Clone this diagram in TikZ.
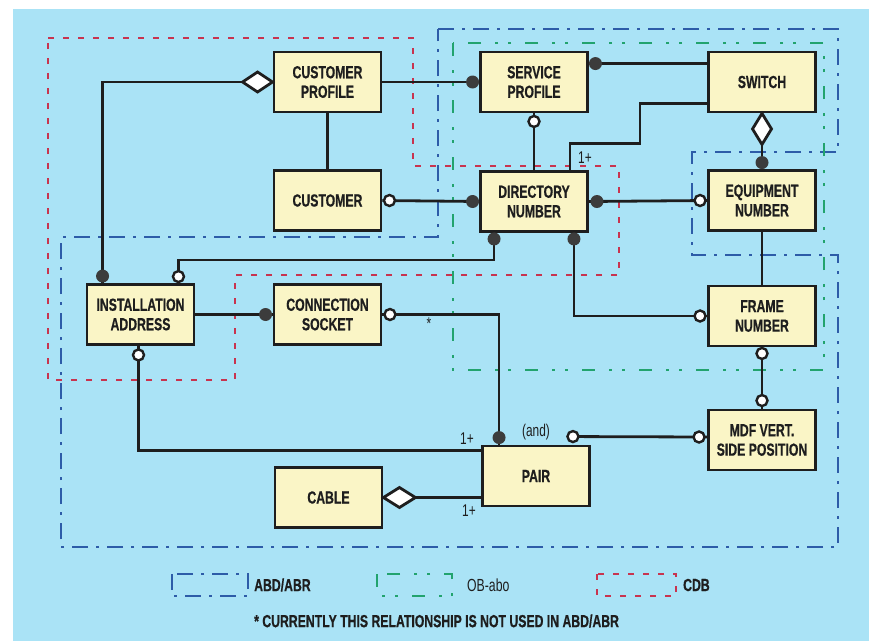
\documentclass[tikz,border=0pt]{standalone}
\usepackage{fontspec}
\setmainfont{Liberation Sans}[FakeStretch=0.70]
\newfontfamily\heavyfont{Liberation Sans}[FakeStretch=0.70, FakeBold=0.6]
\usetikzlibrary{calc}

\definecolor{bgblue}{HTML}{AAE3F6}
\definecolor{boxfill}{HTML}{FAF5C6}
\definecolor{ink}{HTML}{1E1E1E}
\definecolor{dotc}{HTML}{3C3C3C}
\definecolor{cdbred}{HTML}{C8344F}
\definecolor{abdblue}{HTML}{2D5CA8}
\definecolor{obgreen}{HTML}{22A36E}

\tikzset{
  box/.style={draw=ink, line width=2.9pt, fill=boxfill, minimum width=107pt,
    minimum height=60pt, inner sep=0pt, align=center, text=ink,
    font=\heavyfont\fontsize{17.5}{19.5}\selectfont\bfseries},
  conn/.style={draw=ink, line width=2.8pt},
  diam/.style={draw=ink, line width=2.8pt, fill=white, line join=miter},
  fdot/.style={fill=dotc},
  odot/.style={fill=white, draw=ink, line width=2.4pt},
  lbl/.style={text=ink, inner sep=0pt, font=\fontsize{17}{19}\selectfont},
  leg/.style={text=ink, inner sep=0pt, anchor=west, font=\heavyfont\fontsize{17.5}{19.5}\selectfont\bfseries},
  cdb/.style={draw=cdbred, line width=2.8pt, dash pattern=on 6pt off 9pt},
  abd/.style={draw=abdblue, line width=2.8pt, dash pattern=on 16pt off 8pt on 3pt off 8pt},
  ob/.style={draw=obgreen, line width=2.8pt, dash pattern=on 13pt off 14pt on 3pt off 10pt on 3pt off 14pt},
}

\begin{document}
\begin{tikzpicture}[x=1pt,y=-1pt]
\useasboundingbox (0,0) rectangle (869,641);
\fill[white] (0,0) rectangle (869,641);
\fill[bgblue] (13,9) rectangle (869,641);

% database regions
\draw[cdb] (48,38) -- (413,38) -- (413,166) -- (619,166) -- (619,275) -- (235,275) -- (235,380) -- (48,380) -- cycle;
\draw[abd] (438,29) -- (838,29) -- (838,152) -- (692,152) -- (692,255) -- (838,255) -- (838,547) -- (61,547) -- (61,237) -- (438,237) -- cycle;
\draw[ob] (453,43) rectangle (824,370);

% entities
\node[box] (CP)  at (327.5,82)  {CUSTOMER\\PROFILE};
\node[box] (CU)  at (327.5,200.5) {CUSTOMER};
\node[box] (SP)  at (534,82)    {SERVICE\\PROFILE};
\node[box] (SW)  at (762,82)    {SWITCH};
\node[box] (DN)  at (534,201.5) {DIRECTORY\\NUMBER};
\node[box] (EN)  at (762,200.5) {EQUIPMENT\\NUMBER};
\node[box] (FN)  at (762,316)   {FRAME\\NUMBER};
\node[box] (IA)  at (140.5,314.5) {INSTALLATION\\ADDRESS};
\node[box] (CS)  at (327.5,314.5) {CONNECTION\\SOCKET};
\node[box] (CA)  at (328.5,497.5) {CABLE};
\node[box] (PA)  at (536,476)   {PAIR};
\node[box] (MDF) at (762,440)   {MDF VERT.\\SIDE POSITION};

% customer profile -- installation address (aggregation)
\draw[conn] (CP.west) -- ++(-30,0) -| ([xshift=17pt]IA.north west);
\draw[diam] (CP.west) -- ++(-15,-10) -- ++(-15,10) -- ++(15,10) -- cycle;
\fill[fdot] ([xshift=17pt,yshift=7pt]IA.north west) circle[radius=6.5pt];

% customer profile -- customer
\draw[conn] (CP.south) -- (CU.north);

% customer profile -- service profile
\draw[conn] (CP.east) -- (SP.west);
\fill[fdot] ([xshift=-6.5pt]SP.west) circle[radius=6.5pt];

% customer -- directory number
\draw[conn] (CU.east) -- (DN.west);
\draw[odot] ([xshift=7pt]CU.east) circle[radius=5.5pt];
\fill[fdot] ([xshift=-6.5pt]DN.west) circle[radius=6.5pt];

% service profile -- switch
\draw[conn] ([yshift=-13pt]SP.north east) -- ([yshift=-13pt]SW.north west);
\fill[fdot] ([xshift=6.5pt,yshift=-13pt]SP.north east) circle[radius=6.5pt];

% switch -- directory number
\draw[conn] ([yshift=10pt]SW.south west) -- ++(-67,0) -- ++(0,40) -| ([xshift=-19pt]DN.north east);
\node[lbl] (one1) at (585,158) {1+};

% service profile -- directory number
\draw[conn] (SP.south) -- (DN.north);
\draw[odot] ([yshift=-8pt]SP.south) circle[radius=5.5pt];

% switch -- equipment number (aggregation)
\draw[conn] (SW.south) -- (EN.north);
\draw[diam] (SW.south) -- ++(9.5,15.5) -- ++(-9.5,15.5) -- ++(-9.5,-15.5) -- cycle;
\fill[fdot] ([yshift=6.5pt]EN.north) circle[radius=6.5pt];

% directory number -- equipment number
\draw[conn] (DN.east) -- (EN.west);
\fill[fdot] ([xshift=8pt]DN.east) circle[radius=6.5pt];
\draw[odot] ([xshift=-7pt]EN.west) circle[radius=5.5pt];

% directory number -- installation address
\draw[conn] ([xshift=15pt]DN.south west) -- ++(0,27) -| ([xshift=-17pt]IA.north east);
\fill[fdot] ([xshift=15pt,yshift=-6pt]DN.south west) circle[radius=6.5pt];
\draw[odot] ([xshift=-17pt,yshift=6.5pt]IA.north east) circle[radius=5.5pt];

% directory number -- frame number
\draw[conn] ([xshift=-15pt]DN.south east) |- (FN.west);
\fill[fdot] ([xshift=-15pt,yshift=-6pt]DN.south east) circle[radius=6.5pt];
\draw[odot] ([xshift=-7pt]FN.west) circle[radius=5.5pt];

% equipment number -- frame number
\draw[conn] (EN.south) -- (FN.north);

% installation address -- connection socket
\draw[conn] (IA.east) -- (CS.west);
\fill[fdot] ([xshift=-7pt]CS.west) circle[radius=6.5pt];

% connection socket -- pair
\draw[conn] (CS.east) -| ([xshift=18pt]PA.north west);
\draw[odot] ([xshift=7.5pt]CS.east) circle[radius=5.5pt];
\fill[fdot] ([xshift=18pt,yshift=7pt]PA.north west) circle[radius=6.5pt];
\node[lbl] (star) at (429,324) {*};

% installation address -- pair
\draw[conn] ([xshift=-2pt]IA.south) |- ([yshift=-6pt]PA.north west);
\draw[odot] ([xshift=-2pt,yshift=-9pt]IA.south) circle[radius=5.5pt];
\node[lbl] (one2) at (467,439) {1+};

% cable -- pair (aggregation)
\draw[conn] (CA.east) -- (CA.east -| PA.west);
\draw[diam] (CA.east) -- ++(16,-10) -- ++(16,10) -- ++(-16,10) -- cycle;
\node[lbl] (one3) at (469,511) {1+};

% pair -- mdf vertical side position
\draw[conn] ([xshift=-18pt,yshift=8pt]PA.north east) -- ([yshift=3pt]MDF.west);
\draw[odot] ([xshift=-18pt,yshift=8pt]PA.north east) circle[radius=5.5pt];
\draw[odot] ([xshift=-8pt,yshift=3pt]MDF.west) circle[radius=5.5pt];
\node[lbl] (and) at (536,432) {(and)};

% frame number -- mdf vertical side position
\draw[conn] (FN.south) -- (MDF.north);
\draw[odot] ([yshift=-6pt]FN.south) circle[radius=5.5pt];
\draw[odot] ([yshift=8pt]MDF.north) circle[radius=5.5pt];

% legend
\draw[abd] (172,574) rectangle (248,596);
\node[leg] (legA) at (254,585) {ABD/ABR};
\draw[ob] (377,574) rectangle (452,596);
\node[leg, font=\fontsize{17.5}{19.5}\selectfont] (legO) at (467,585) {OB-abo};
\draw[cdb] (597,574) rectangle (676,596);
\node[leg] (legC) at (683,585) {CDB};
\node[leg] (note) at (254,621) {* CURRENTLY THIS RELATIONSHIP IS NOT USED IN ABD/ABR};
\end{tikzpicture}
\end{document}
